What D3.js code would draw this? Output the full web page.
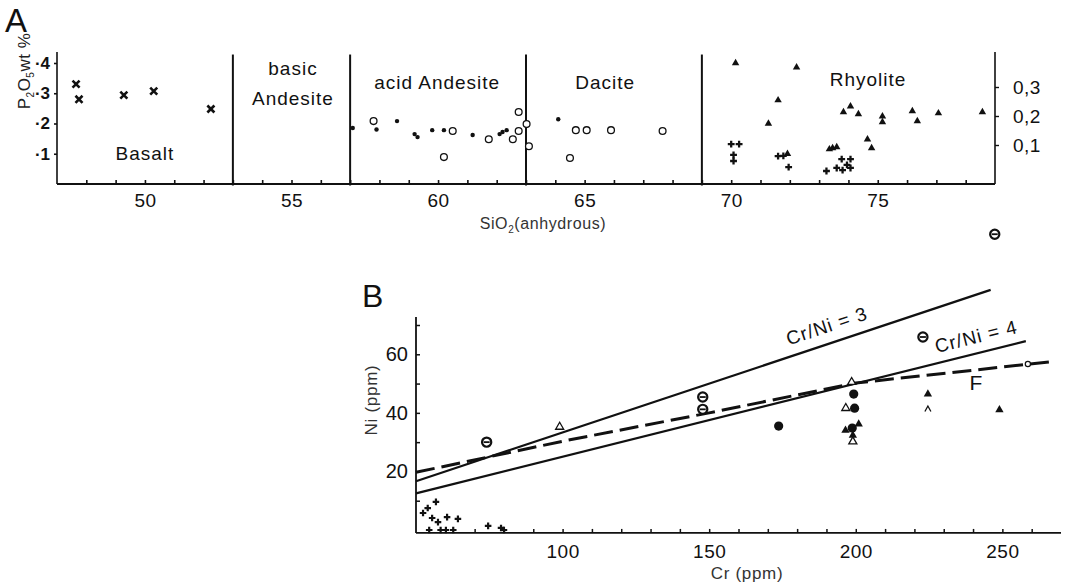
<!DOCTYPE html>
<html>
<head>
<meta charset="utf-8">
<script src="https://cdn.jsdelivr.net/npm/d3@7"></script>
<style>
body{margin:0;background:#fff;}
text{font-family:"Liberation Sans",Arial,sans-serif;fill:#111;}
</style>
</head>
<body>
<svg id="chart" width="1068" height="585"></svg>
<script>
// ===== PANEL A data: [SiO2, P2O5 wt%] =====
const fieldBounds = [53, 57, 63, 69];
const basaltCross = [[47.65,0.33],[47.75,0.28],[49.28,0.294],[50.3,0.307],[52.25,0.248]];
const andesiteDot = [[57.09,0.185],[57.9,0.18],[58.6,0.208],[59.2,0.165],[59.3,0.155],[59.8,0.178],
    [60.2,0.178],[61.18,0.162],[62.1,0.165],[62.2,0.172],[62.34,0.178],[64.1,0.214]];
const openCircle = [[57.8,0.208],[60.2,0.089],[60.5,0.175],[61.73,0.148],[62.55,0.148],[62.75,0.238],
    [62.75,0.175],[63.02,0.198],[63.1,0.125],[64.5,0.086],[64.7,0.178],[65.07,0.178],[65.9,0.178],[67.66,0.175]];
const rhyoTri = [[70.15,0.4],[72.23,0.386],[71.6,0.277],[71.27,0.2],[71.92,0.1],[73.83,0.238],[74.07,0.257],
    [74.34,0.231],[75.16,0.224],[75.16,0.205],[74.65,0.148],[74.79,0.119],[76.18,0.241],[76.35,0.208],
    [77.07,0.234],[78.57,0.238],[73.35,0.115],[73.46,0.119],[73.6,0.122]];
const rhyoPlus = [[70.0,0.132],[70.27,0.132],[70.08,0.096],[70.08,0.076],[71.6,0.092],[71.78,0.093],
    [71.96,0.056],[73.25,0.043],[73.6,0.053],[73.77,0.082],[73.8,0.046],[74.07,0.082],[74.07,0.053],[73.95,0.063]];
const leftTicksA = [0.1,0.2,0.3,0.4];
const rightTicksA = [0.1,0.2,0.3];

// ===== PANEL B data: [Cr ppm, Ni ppm] =====
const thetaB = [[247.4,101],[222.9,65.9],[74.1,30.0],[147.8,45.4],[147.8,41.2]];
const openTriB = [[99,35.2],[198.6,50.5],[196.6,41.6],[199,30.2]];
const filledCircB = [[199.3,46.4],[199.6,41.6],[173.7,35.5],[198.8,34.8]];
const filledTriB = [[224.6,46.4],[249,41],[196.5,34],[201,36.2],[199,32.3]];
const caretB = [[224.6,41.3]];
const plusB = [[52.4,5.8],[54,7.5],[56.8,9.6],[55.5,4.1],[57.5,2.7],[60.6,4.4],[64.3,3.8],[54.5,0],
    [58.4,0],[60.2,0],[62.7,0],[74.6,1.4],[79,0.7],[80,0]];
const ratioLines = [{k:3, crEnd:246}, {k:4, crEnd:258}];
const fLine = [[50,19.7],[100,30.3],[150,40],[200,50.2],[268,57.6]];
const fMarker = [[258.7,56.7]];

const svg = d3.select("#chart");

/* ========== PANEL A ========== */
const xA = d3.scaleLinear().domain([47,79]).range([57,995]);
const yA = d3.scaleLinear().domain([0,0.4]).range([184,63]);
const yAR = d3.scaleLinear().domain([0.1,0.3]).range([145,87]);
const gA = svg.append("g");

gA.append("text").attr("x",5).attr("y",32).style("font-size","33px").text("A");

// axes frame
gA.append("line").attr("x1",xA(47)).attr("x2",xA(79)).attr("y1",yA(0)).attr("y2",yA(0))
    .attr("stroke","#111").attr("stroke-width",2.2);
[47,79].forEach(v=>gA.append("line").attr("x1",xA(v)).attr("x2",xA(v))
    .attr("y1",yA(0)).attr("y2",yA(0.436)).attr("stroke","#111").attr("stroke-width",1.6));
fieldBounds.forEach(v=>gA.append("line").attr("x1",xA(v)).attr("x2",xA(v))
    .attr("y1",yA(-0.005)).attr("y2",yA(0.428)).attr("stroke","#111").attr("stroke-width",2));

// x axis ticks
const axA = gA.append("g").attr("transform",`translate(0,${yA(0)})`)
    .call(d3.axisBottom(xA).tickValues(d3.range(48,79)).tickSize(-4).tickPadding(10)
        .tickFormat(d=>d%5===0?d:""));
axA.select(".domain").remove();
axA.selectAll(".tick line").attr("stroke","#111").attr("stroke-width",1.6);
axA.selectAll("text").style("font-size","19px").style("letter-spacing","0.5px")
    .attr("font-family",null).attr("fill","#111");

// left y ticks
const ayA = gA.append("g").attr("transform",`translate(${xA(47)},0)`)
    .call(d3.axisLeft(yA).tickValues(leftTicksA).tickSize(3).tickPadding(4)
        .tickFormat(d=>"·"+Math.round(d*10)));
ayA.select(".domain").remove();
ayA.selectAll(".tick line").attr("stroke","#111").attr("stroke-width",1.6);
ayA.selectAll("text").style("font-size","17px").style("font-weight","bold").attr("fill","#111");

// right y ticks
const ayAR = gA.append("g").attr("transform",`translate(${xA(79)},0)`)
    .call(d3.axisRight(yAR).tickValues(rightTicksA).tickSize(4).tickPadding(14)
        .tickFormat(d=>d3.format(".1f")(d).replace(".",",")));
ayAR.select(".domain").remove();
ayAR.selectAll(".tick line").attr("stroke","#111").attr("stroke-width",1.4);
ayAR.selectAll("text").style("font-size","19px").style("letter-spacing","0.5px").attr("fill","#111");

// field names
const fieldText = [["Basalt",50.0,0.10],["basic",55.05,0.383],["Andesite",55.05,0.284],
    ["acid Andesite",59.97,0.337],["Dacite",65.7,0.337],["Rhyolite",74.67,0.347]];
fieldText.forEach(f=>gA.append("text").attr("x",xA(f[1])).attr("y",yA(f[2])).attr("dy","0.35em")
    .attr("text-anchor","middle").style("font-size","19px").style("letter-spacing","1px").text(f[0]));

// axis titles
const xt = gA.append("text").attr("x",543).attr("y",229).attr("text-anchor","middle")
    .style("font-size","16px").style("letter-spacing","0.6px").style("fill","#333");
xt.append("tspan").text("SiO");
xt.append("tspan").attr("dy",4).style("font-size","10px").text("2");
xt.append("tspan").attr("dy",-4).text("(anhydrous)");

const yt = gA.append("text").attr("transform","translate(30,71) rotate(-90)").attr("text-anchor","middle")
    .style("font-size","17px").style("letter-spacing","0.5px").style("fill","#222");
yt.append("tspan").text("P");
yt.append("tspan").attr("dy",4).style("font-size","10px").text("2");
yt.append("tspan").attr("dy",-4).text("O");
yt.append("tspan").attr("dy",4).style("font-size","10px").text("5");
yt.append("tspan").attr("dy",-4).text("wt %");

// markers
gA.selectAll(".bx").data(basaltCross).join("path").attr("class","bx")
    .attr("transform",d=>`translate(${xA(d[0])},${yA(d[1])})`)
    .attr("d",d3.symbol(d3.symbolX,34)).attr("fill","none").attr("stroke","#111").attr("stroke-width",2.6);
gA.selectAll(".oc").data(openCircle).join("circle").attr("class","oc")
    .attr("cx",d=>xA(d[0])).attr("cy",d=>yA(d[1])).attr("r",3.4)
    .attr("fill","#fff").attr("stroke","#111").attr("stroke-width",1.3);
gA.selectAll(".ad").data(andesiteDot).join("circle").attr("class","ad")
    .attr("cx",d=>xA(d[0])).attr("cy",d=>yA(d[1])).attr("r",2.2).attr("fill","#111");
gA.selectAll(".rt").data(rhyoTri).join("path").attr("class","rt")
    .attr("transform",d=>`translate(${xA(d[0])},${yA(d[1])})`)
    .attr("d",d3.symbol(d3.symbolTriangle,24)).attr("fill","#111");
gA.selectAll(".rp").data(rhyoPlus).join("path").attr("class","rp")
    .attr("transform",d=>`translate(${xA(d[0])},${yA(d[1])})`)
    .attr("d",d3.symbol(d3.symbolCross,26)).attr("fill","#111");

/* ========== PANEL B ========== */
const xB = d3.scaleLinear().domain([50,270]).range([416,1061]);
const yB = d3.scaleLinear().domain([0,70]).range([530,325]);
const gB = svg.append("g");

gB.append("text").attr("x",362).attr("y",307).style("font-size","32px").text("B");

gB.append("line").attr("x1",xB(50)).attr("x2",xB(270)).attr("y1",yB(-1)).attr("y2",yB(-1))
    .attr("stroke","#111").attr("stroke-width",1.8);
gB.append("line").attr("x1",xB(50)).attr("x2",xB(50)).attr("y1",yB(-1)).attr("y2",yB(72.7))
    .attr("stroke","#111").attr("stroke-width",1.8);

const axB = gB.append("g").attr("transform",`translate(0,${yB(-1)})`)
    .call(d3.axisBottom(xB).tickValues(d3.range(60,261,10)).tickSize(-4).tickPadding(12)
        .tickFormat(d=>d%50===0?d:""));
axB.select(".domain").remove();
axB.selectAll(".tick line").attr("stroke","#111").attr("stroke-width",1.5);
axB.selectAll("text").style("font-size","19px").style("letter-spacing","0.5px").attr("fill","#111");

const ayB = gB.append("g").attr("transform",`translate(${xB(50)},0)`)
    .call(d3.axisLeft(yB).tickValues(d3.range(10,71,10)).tickSize(-4).tickPadding(8)
        .tickFormat(d=>d%20===0?d:""));
ayB.select(".domain").remove();
ayB.selectAll(".tick line").attr("stroke","#111").attr("stroke-width",1.5);
ayB.selectAll("text").style("font-size","20px").attr("fill","#111");

gB.append("text").attr("x",747).attr("y",579).attr("text-anchor","middle")
    .style("font-size","17px").style("letter-spacing","0.7px").style("fill","#333").text("Cr (ppm)");
gB.append("text").attr("transform","translate(377,400) rotate(-90)").attr("text-anchor","middle")
    .style("font-size","17px").style("letter-spacing","0.7px").style("fill","#333").text("Ni (ppm)");

// Cr/Ni ratio lines
ratioLines.forEach(r=>{
    gB.append("line").attr("x1",xB(50)).attr("y1",yB(50/r.k))
        .attr("x2",xB(r.crEnd)).attr("y2",yB(r.crEnd/r.k))
        .attr("stroke","#111").attr("stroke-width",2.2);
});
const angleOf = k=>Math.atan2(yB(100/k)-yB(0),xB(150)-xB(50))*180/Math.PI;
gB.append("text").attr("transform",`translate(${xB(192)},${yB(192/3)}) rotate(${angleOf(3)})`)
    .attr("y",-11).attr("text-anchor","middle").style("font-size","19px").style("letter-spacing","1px")
    .text("Cr/Ni = 3");
gB.append("text").attr("transform",`translate(${xB(242.4)},${yB(242.4/4)}) rotate(${angleOf(4)})`)
    .attr("y",-10).attr("text-anchor","middle").style("font-size","19px").style("letter-spacing","1px")
    .text("Cr/Ni = 4");

// F dashed
gB.append("path").datum(fLine)
    .attr("d",d3.line().x(d=>xB(d[0])).y(d=>yB(d[1])))
    .attr("fill","none").attr("stroke","#111").attr("stroke-width",3).attr("stroke-dasharray","19,7");
gB.append("text").attr("x",xB(241)).attr("y",yB(50.2)).attr("dy","0.35em").attr("text-anchor","middle")
    .style("font-size","21px").text("F");
gB.selectAll(".fm").data(fMarker).join("circle").attr("class","fm")
    .attr("cx",d=>xB(d[0])).attr("cy",d=>yB(d[1])).attr("r",2.6)
    .attr("fill","#fff").attr("stroke","#111").attr("stroke-width",1.2);

// markers
gB.selectAll(".pb").data(plusB).join("path").attr("class","pb")
    .attr("transform",d=>`translate(${xB(d[0])},${yB(d[1])})`)
    .attr("d",d3.symbol(d3.symbolCross,24)).attr("fill","#111");
gB.selectAll(".fc").data(filledCircB).join("circle").attr("class","fc")
    .attr("cx",d=>xB(d[0])).attr("cy",d=>yB(d[1])).attr("r",4.6).attr("fill","#111");
gB.selectAll(".ft").data(filledTriB).join("path").attr("class","ft")
    .attr("transform",d=>`translate(${xB(d[0])},${yB(d[1])})`)
    .attr("d",d3.symbol(d3.symbolTriangle,30)).attr("fill","#111");
gB.selectAll(".ot").data(openTriB).join("path").attr("class","ot")
    .attr("transform",d=>`translate(${xB(d[0])},${yB(d[1])})`)
    .attr("d",d3.symbol(d3.symbolTriangle,28)).attr("fill","#fff").attr("stroke","#111").attr("stroke-width",1.3);
gB.selectAll(".cb").data(caretB).join("path").attr("class","cb")
    .attr("transform",d=>`translate(${xB(d[0])},${yB(d[1])})`)
    .attr("d","M-3,2.5L0,-3L3,2.5").attr("fill","none").attr("stroke","#111").attr("stroke-width",1.3);
const th = gB.selectAll(".th").data(thetaB).join("g").attr("class","th")
    .attr("transform",d=>`translate(${xB(d[0])},${yB(d[1])})`);
th.append("circle").attr("r",4.6).attr("fill","#fff").attr("stroke","#111").attr("stroke-width",2.2);
th.append("line").attr("x1",-3).attr("x2",3).attr("stroke","#111").attr("stroke-width",1.8);
</script>
</body>
</html>
